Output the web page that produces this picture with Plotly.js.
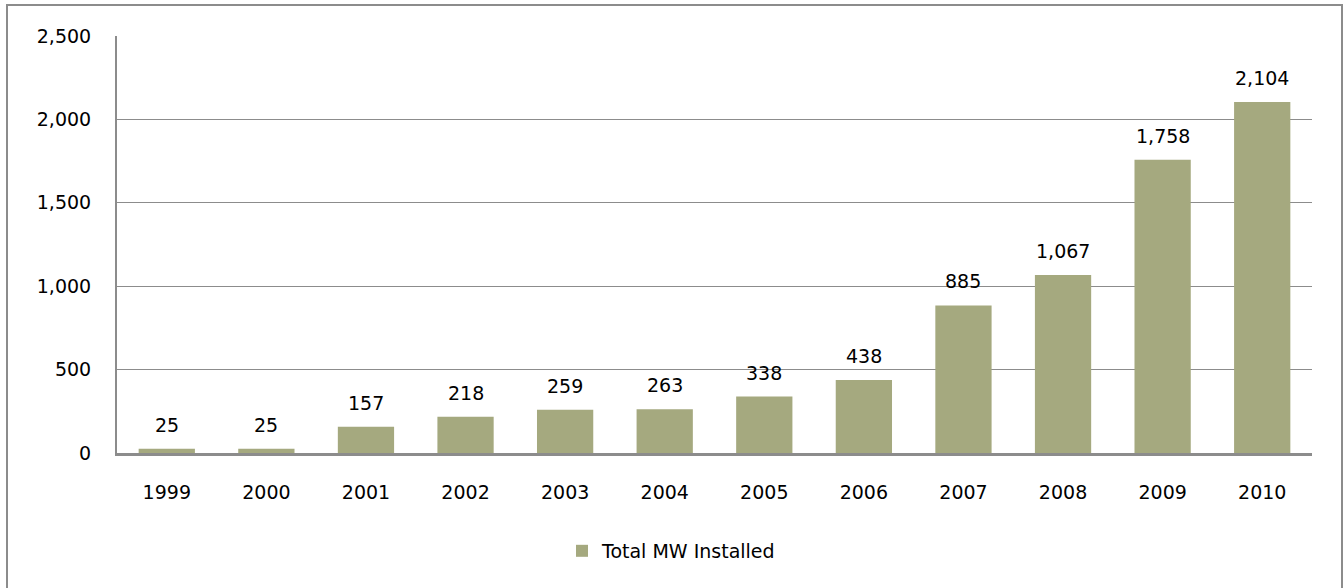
<!DOCTYPE html>
<html>
<head>
<meta charset="utf-8">
<script src="https://cdn.plot.ly/plotly-3.0.1.min.js"></script>
<style>
  html, body { margin: 0; padding: 0; background: #fff; overflow: hidden; }
  #wrap { position: relative; width: 1343px; height: 588px; }
  #chart { position: absolute; left: 0; top: 0; width: 1343px; height: 588px; }
  #frame { position: absolute; left: 6px; top: 4px; width: 1333px; height: 600px;
           border-left: 2px solid #8c8c8c; border-top: 2px solid #8c8c8c; border-right: 2px solid #8c8c8c;
           pointer-events: none; }
</style>
</head>
<body>
<div id="wrap">
  <div id="chart"></div>
  <div id="frame"></div>
</div>
<script>
const years = ['1999','2000','2001','2002','2003','2004','2005','2006','2007','2008','2009','2010'];
const totalMW = [25, 25, 157, 218, 259, 263, 338, 438, 885, 1067, 1758, 2104];
const seriesName = 'Total MW Installed';
const yTicks = [0, 500, 1000, 1500, 2000, 2500];
const yTickLabels = ['0', '500', '1,000', '1,500', '2,000', '2,500'];

const FONT = 'DejaVu Sans, sans-serif';
const fmt = v => v.toLocaleString('en-US');

const trace = {
  type: 'bar',
  x: years,
  y: totalMW,
  name: seriesName,
  marker: { color: '#a5a97f' },
  hoverinfo: 'x+y'
};

const annotations = years.map((yr, i) => ({
  x: i, y: totalMW[i], xref: 'x', yref: 'y',
  text: fmt(totalMW[i]), showarrow: false,
  yanchor: 'bottom', yshift: 11,
  font: { family: FONT, size: 19, color: '#000' }
}));

const layout = {
  width: 1343, height: 588,
  margin: { l: 117, r: 31, t: 36, b: 135 },
  paper_bgcolor: '#fff', plot_bgcolor: '#fff',
  bargap: 0.435,
  showlegend: true,
  legend: {
    orientation: 'h', xref: 'container', yref: 'container',
    x: 0.5, xanchor: 'center', y: 0.063, yanchor: 'middle',
    font: { family: FONT, size: 19, color: '#000' },
    itemwidth: 30
  },
  xaxis: {
    type: 'category',
    range: [-0.5, years.length - 0.5],
    showline: true, linecolor: '#8c8c8c', linewidth: 3,
    ticks: 'outside', ticklen: 20, tickcolor: 'rgba(0,0,0,0)',
    tickfont: { family: FONT, size: 19, color: '#000' },
    showgrid: false, zeroline: false
  },
  yaxis: {
    range: [0, 2500],
    tickvals: yTicks, ticktext: yTickLabels,
    showgrid: true, gridcolor: '#8c8c8c', gridwidth: 1,
    showline: true, linecolor: '#8c8c8c', linewidth: 2,
    zeroline: false,
    ticks: 'outside', ticklen: 20, tickcolor: 'rgba(0,0,0,0)',
    tickfont: { family: FONT, size: 19, color: '#000' }
  },
  annotations: annotations
};

Plotly.newPlot('chart', [trace], layout, { displayModeBar: false, staticPlot: true });
</script>
</body>
</html>
